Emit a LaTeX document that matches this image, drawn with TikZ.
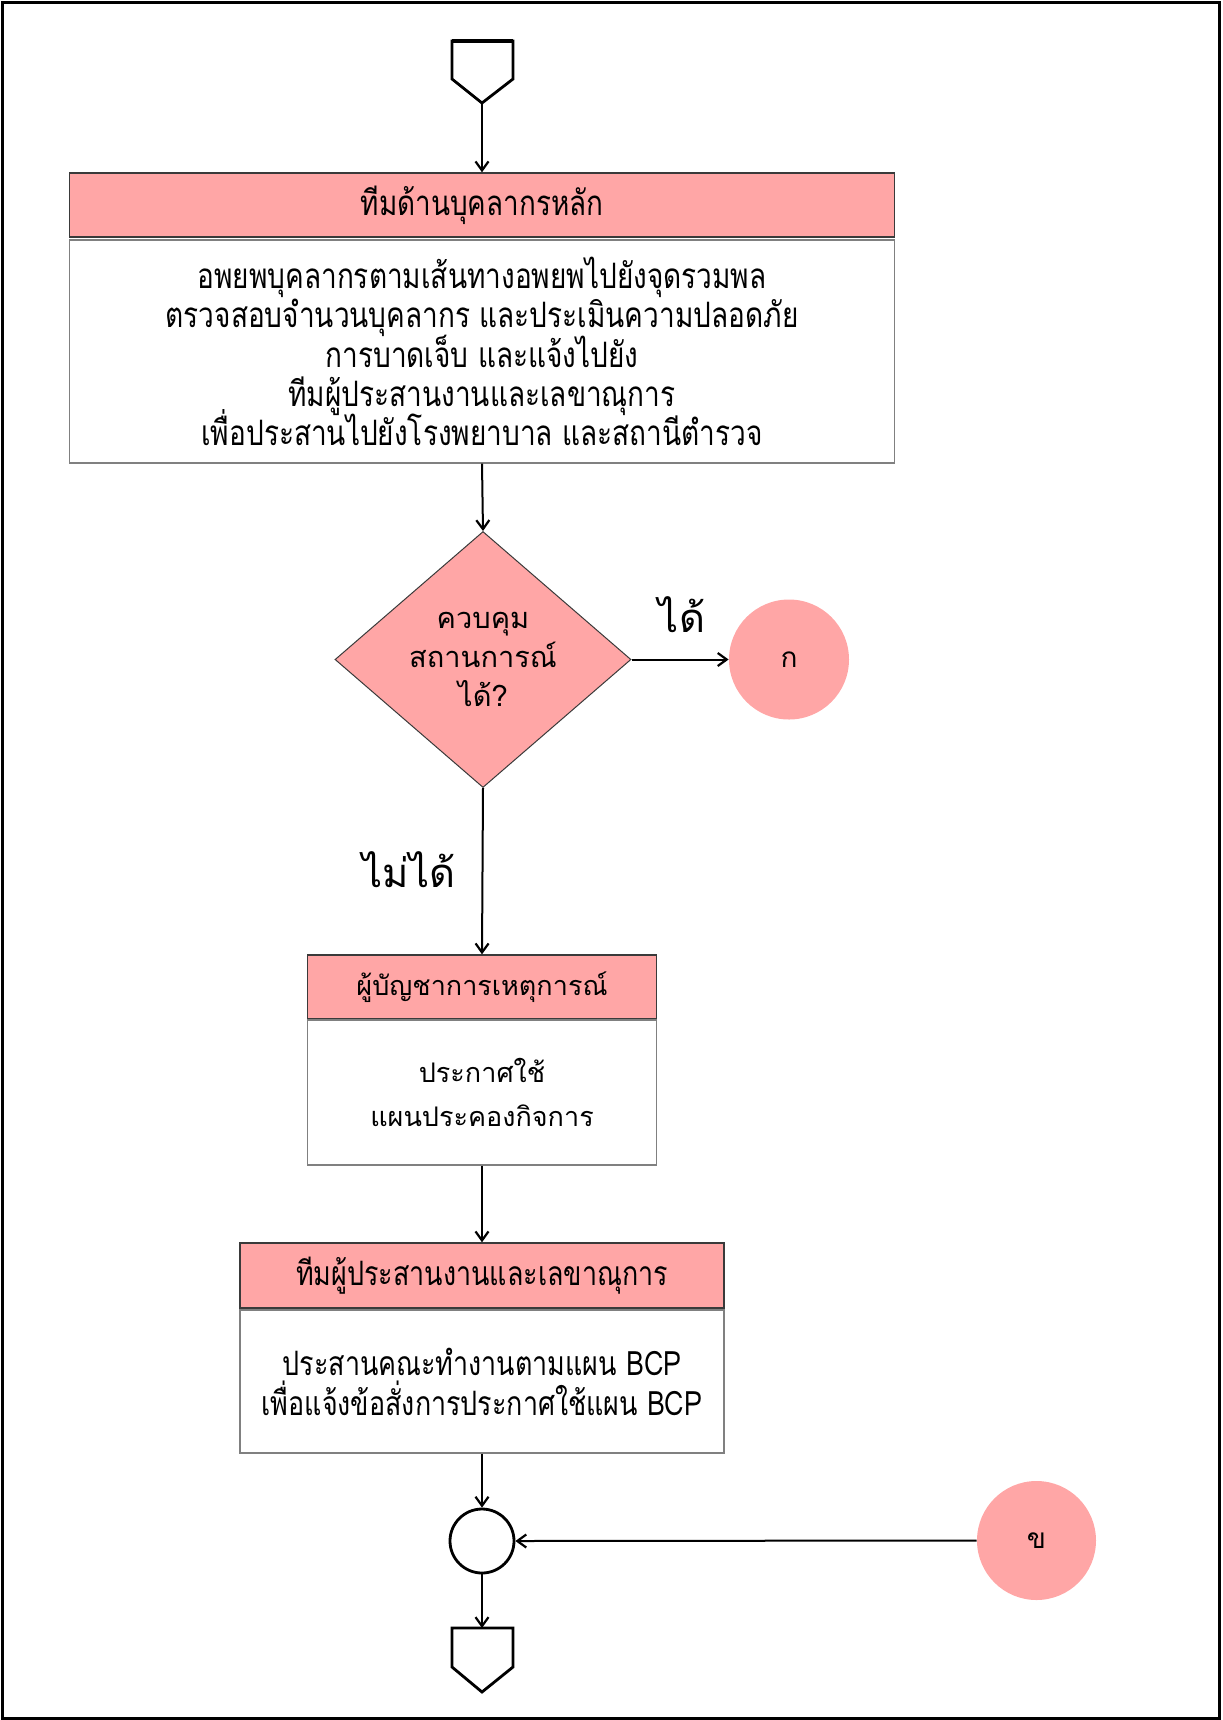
\documentclass[tikz,border=0pt]{standalone}
\usepackage{fontspec}
\setmainfont{Loma}[Script=Thai]
\newfontfamily\thaicond{Loma}[Script=Thai,FakeStretch=0.8]
\usetikzlibrary{shapes.geometric,arrows.meta}
\definecolor{salmon}{HTML}{FFA6A6}
\definecolor{headline}{HTML}{3A3A3A}
\definecolor{bodyline}{HTML}{808080}
% fixed line pitch, whatever marks stand above or below the letters
\newcommand{\fixedpitch}{\lineskiplimit=-30pt\lineskip=0pt}
\tikzset{
  headbox/.style={rectangle, draw=headline, fill=salmon, line width=0.7pt, inner sep=0pt},
  bodybox/.style={rectangle, draw=bodyline, fill=white, line width=0.7pt, inner sep=0pt, align=center},
  decision/.style={diamond, draw=headline, fill=salmon, line width=0.5pt, inner sep=0pt},
  connector/.style={circle, fill=salmon, inner sep=0pt, font=\fontsize{14}{16}\selectfont},
  junction/.style={circle, draw, line width=1.4pt, fill=white, inner sep=0pt},
  offpage/.style={line width=1.4pt, line join=miter},
  flow/.style={line width=1pt, -{Straight Barb[length=4.5pt,width=6.5pt,line width=1.1pt]}},
  branchlabel/.style={inner sep=0pt, font=\fontsize{20}{22}\selectfont},
  plaintext/.style={font=\fontsize{13.5}{22}\selectfont\fixedpitch}
}
\begin{document}
\begin{tikzpicture}[x=0.5pt,y=-0.5pt]
\useasboundingbox (0,0) rectangle (1222,1720);
% page frame
\draw[line width=1.5pt] (2,2) rectangle (1219,1718);

% off-page connector at the top
\draw[offpage] (452,41) -- (513,41) -- (513,79) -- (482,103) -- (452,79) -- cycle;
\draw[line width=2pt] (452,41) -- (513,41);
\coordinate (inTip) at (482,103);

% core personnel team
\node[headbox, font=\thaicond\fontsize{17.4}{20}\selectfont, minimum width=412.5pt, minimum height=32pt] (h1) at (482,205) {ทีมด้านบุคลากรหลัก};
\node[bodybox, font=\thaicond\fontsize{17.5}{19.6}\selectfont\fixedpitch, minimum width=412.5pt, minimum height=111.5pt] (b1) at (482,351.5)
  {อพยพบุคลากรตามเส้นทางอพยพไปยังจุดรวมพล\\
   ตรวจสอบจำนวนบุคลากร และประเมินความปลอดภัย\\
   การบาดเจ็บ และแจ้งไปยัง\\
   ทีมผู้ประสานงานและเลขาณุการ\\
   เพื่อประสานไปยังโรงพยาบาล และสถานีตำรวจ};

% decision
\node[decision, minimum width=148pt, minimum height=128pt] (dec) at (483,659.5) {};
\node[align=center, inner sep=0pt, font=\fontsize{14.5}{19.5}\selectfont\fixedpitch] (decText) at (dec.center)
  {ควบคุม\\สถานการณ์\\ได้?};
\node[connector, minimum size=60pt] (ka) at (789,659.5) {ก};

% incident commander
\node[headbox, plaintext, minimum width=174.5pt, minimum height=32pt] (h2) at (482,987) {ผู้บัญชาการเหตุการณ์};
\node[bodybox, plaintext, minimum width=174.5pt, minimum height=72.5pt] (b2) at (482,1092.5)
  {ประกาศใช้\\แผนประคองกิจการ};

% coordination and secretariat team
\node[headbox, font=\thaicond\fontsize{16.8}{20}\selectfont, minimum width=242pt, minimum height=32.5pt] (h3) at (482,1275.5) {ทีมผู้ประสานงานและเลขาณุการ};
\node[bodybox, font=\thaicond\fontsize{16.8}{20}\selectfont\fixedpitch, minimum width=242pt, minimum height=71.5pt] (b3) at (482,1381.5)
  {ประสานคณะทำงานตามแผน BCP\\เพื่อแจ้งข้อสั่งการประกาศใช้แผน BCP};

% junction and connector ข
\node[junction, minimum size=32pt] (jn) at (482,1541) {};
\node[connector, minimum size=59.5pt] (kho) at (1036.5,1540.5) {ข};

% off-page connector at the bottom
\draw[offpage] (452,1628) -- (513,1628) -- (513,1667) -- (482,1692) -- (452,1667) -- cycle;
\coordinate (outTop) at (482,1628);

% flow lines
\draw[flow] (inTip) -- (h1.north);
\draw[flow] (b1.south) -- (dec.north);
\draw[flow] (dec.east) -- (ka.west);
\draw[flow] (dec.south) -- (h2.north);
\draw[flow] (b2.south) -- (h3.north);
\draw[flow] (b3.south) -- (jn.north);
\draw[flow] (kho.west) -- (jn.east);
\draw[flow] (jn.south) -- (outTop);

% branch labels
\node[branchlabel] (yes) at (682,615) {ได้};
\node[branchlabel] (no) at (409,870) {ไม่ได้};
\end{tikzpicture}
\end{document}
